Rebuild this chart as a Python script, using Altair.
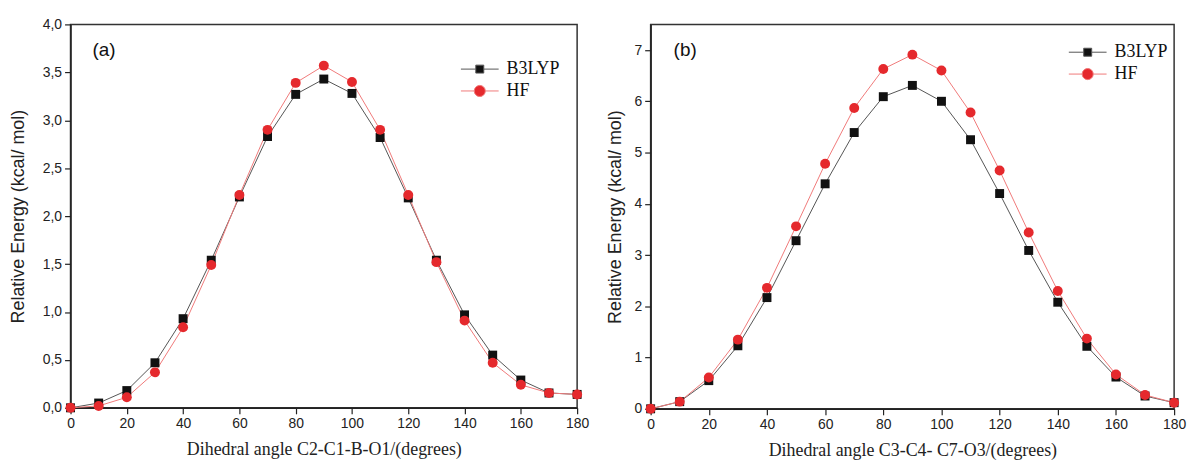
import altair as alt
import pandas as pd

# ---------------- data ----------------
angles = [0, 10, 20, 30, 40, 50, 60, 70, 80, 90, 100, 110, 120, 130, 140, 150, 160, 170, 180]
series_names = ["B3LYP", "HF"]

a_b3lyp = [0.0, 0.05, 0.18, 0.47, 0.93, 1.54, 2.20, 2.83, 3.27, 3.43, 3.28, 2.82, 2.19, 1.54, 0.97, 0.55, 0.29, 0.155, 0.14]
a_hf = [0.0, 0.02, 0.11, 0.37, 0.84, 1.49, 2.22, 2.90, 3.39, 3.57, 3.40, 2.90, 2.22, 1.52, 0.91, 0.47, 0.24, 0.155, 0.14]

b_b3lyp = [0.0, 0.14, 0.55, 1.23, 2.17, 3.28, 4.39, 5.39, 6.09, 6.31, 6.00, 5.25, 4.20, 3.09, 2.08, 1.22, 0.62, 0.25, 0.12]
b_hf = [0.0, 0.14, 0.61, 1.35, 2.36, 3.56, 4.78, 5.87, 6.63, 6.91, 6.60, 5.78, 4.65, 3.44, 2.30, 1.37, 0.67, 0.27, 0.12]

x_title_a = "Dihedral angle C2-C1-B-O1/(degrees)"
x_title_b = "Dihedral angle C3-C4- C7-O3/(degrees)"
y_title = "Relative Energy (kcal/ mol)"

# ---------------- style ----------------
LINE_B3 = "#555555"
LINE_HF = "#f07a7a"
PT_B3 = "#111111"
PT_HF = "#e5292d"
SANS = "Liberation Sans"
SERIF = "Liberation Serif"

SQ_PATH = "M-4.75,0H-1M1,0H4.75M-1,-1H1V1H-1Z"
CI_PATH = "M-4.75,0H-1.4M1.4,0H4.75M1.4,0A1.4,1.4,0,1,1,-1.4,0A1.4,1.4,0,1,1,1.4,0Z"


def make_df(b3, hf):
    rows = []
    for name, vals in zip(series_names, [b3, hf]):
        for a, v in zip(angles, vals):
            rows.append({"angle": a, "energy": v, "series": name})
    return pd.DataFrame(rows)


def panel(b3, hf, ymax, ymajor, yminor, yfmt_expr, x_title, tag, tag_x, tag_y,
          width, height, legend_x, legend_y, ytitle_pad):
    df = make_df(b3, hf)
    x_axis = alt.Axis(
        values=list(range(0, 181, 10)),
        labelExpr="datum.value % 20 === 0 ? datum.label : ''",
        tickSize={"condition": {"test": "datum.value % 20 === 0", "value": 6}, "value": 3},
        labelFlush=False,
        title=x_title,
        titleFont=SERIF, titleFontSize=18, titlePadding=10,
    )
    n = int(round(ymax / yminor))
    yvals = [round(i * yminor, 3) for i in range(n + 1)]
    major_test = f"abs(datum.value/{ymajor} - round(datum.value/{ymajor})) < 0.001"
    y_axis = alt.Axis(
        values=yvals,
        labelExpr=f"({major_test}) ? {yfmt_expr} : ''",
        tickSize={"condition": {"test": major_test, "value": 6}, "value": 3},
        labelFlush=False,
        title=y_title,
        titleFont=SANS, titleFontSize=18, titlePadding=ytitle_pad,
    )
    x_enc = alt.X("angle:Q", scale=alt.Scale(domain=[0, 180], nice=False), axis=x_axis)
    y_enc = alt.Y("energy:Q", scale=alt.Scale(domain=[0, ymax], nice=False), axis=y_axis)

    base = alt.Chart(df).encode(x=x_enc, y=y_enc)
    line_b3 = base.transform_filter(alt.datum.series == "B3LYP").mark_line(color=LINE_B3, strokeWidth=1)
    line_hf = base.transform_filter(alt.datum.series == "HF").mark_line(color=LINE_HF, strokeWidth=1)
    pts_b3 = base.transform_filter(alt.datum.series == "B3LYP").mark_square(size=81, color=PT_B3, opacity=1)
    pts_hf = base.transform_filter(alt.datum.series == "HF").mark_circle(size=100, color=PT_HF, opacity=1)

    legend = alt.Legend(
        orient="none", legendX=legend_x, legendY=legend_y, title=None,
        labelFont=SERIF, labelFontSize=18, labelColor="#111",
        symbolSize=64, symbolStrokeWidth=1, symbolOpacity=1,
        labelOffset=18, rowPadding=4, padding=0,
    )
    leg = base.transform_filter("false").mark_point(filled=True, size=64, opacity=1).encode(
        shape=alt.Shape("series:N", scale=alt.Scale(domain=series_names, range=[SQ_PATH, CI_PATH]), legend=legend),
        fill=alt.Fill("series:N", scale=alt.Scale(domain=series_names, range=[PT_B3, PT_HF]), legend=legend),
        stroke=alt.Stroke("series:N", scale=alt.Scale(domain=series_names, range=[LINE_B3, LINE_HF]), legend=legend),
    )
    tag_layer = alt.Chart(pd.DataFrame({"t": [tag]})).mark_text(
        font=SANS, fontSize=19, align="left", baseline="middle", color="#111"
    ).encode(x=alt.datum(tag_x), y=alt.datum(tag_y), text="t:N")

    return alt.layer(line_b3, line_hf, pts_b3, pts_hf, leg, tag_layer).properties(width=width, height=height)


pa = panel(a_b3lyp, a_hf, 4.0, 0.5, 0.25,
           "replace(format(datum.value, '.1f'), '.', ',')",
           x_title_a, "(a)", 7.8, 3.73, 510, 386, 403, 36, 15)
pb = panel(b_b3lyp, b_hf, 7.5, 1, 0.5,
           "format(datum.value, 'd')",
           x_title_b, "(b)", 7.9, 7.0, 527, 387, 431, 19, 10)

chart = alt.hconcat(pa, pb, spacing=15).resolve_scale(
    shape="independent", fill="independent", stroke="independent"
).resolve_legend(
    shape="independent", fill="independent", stroke="independent"
).properties(
    padding={"left": 8, "top": 15, "right": 5, "bottom": 5},
    background="white",
).configure_view(
    stroke="#333333", strokeWidth=1.5
).configure_axis(
    grid=False,
    domainColor="#222222", domainWidth=1.5,
    tickColor="#222222", tickWidth=1.2,
    labelFont=SANS, labelFontSize=14, labelColor="#222222", labelPadding=3,
    titleFontWeight="normal", titleColor="#222222",
)

chart.save("out.html", embed_options={"renderer": "svg", "actions": False})
